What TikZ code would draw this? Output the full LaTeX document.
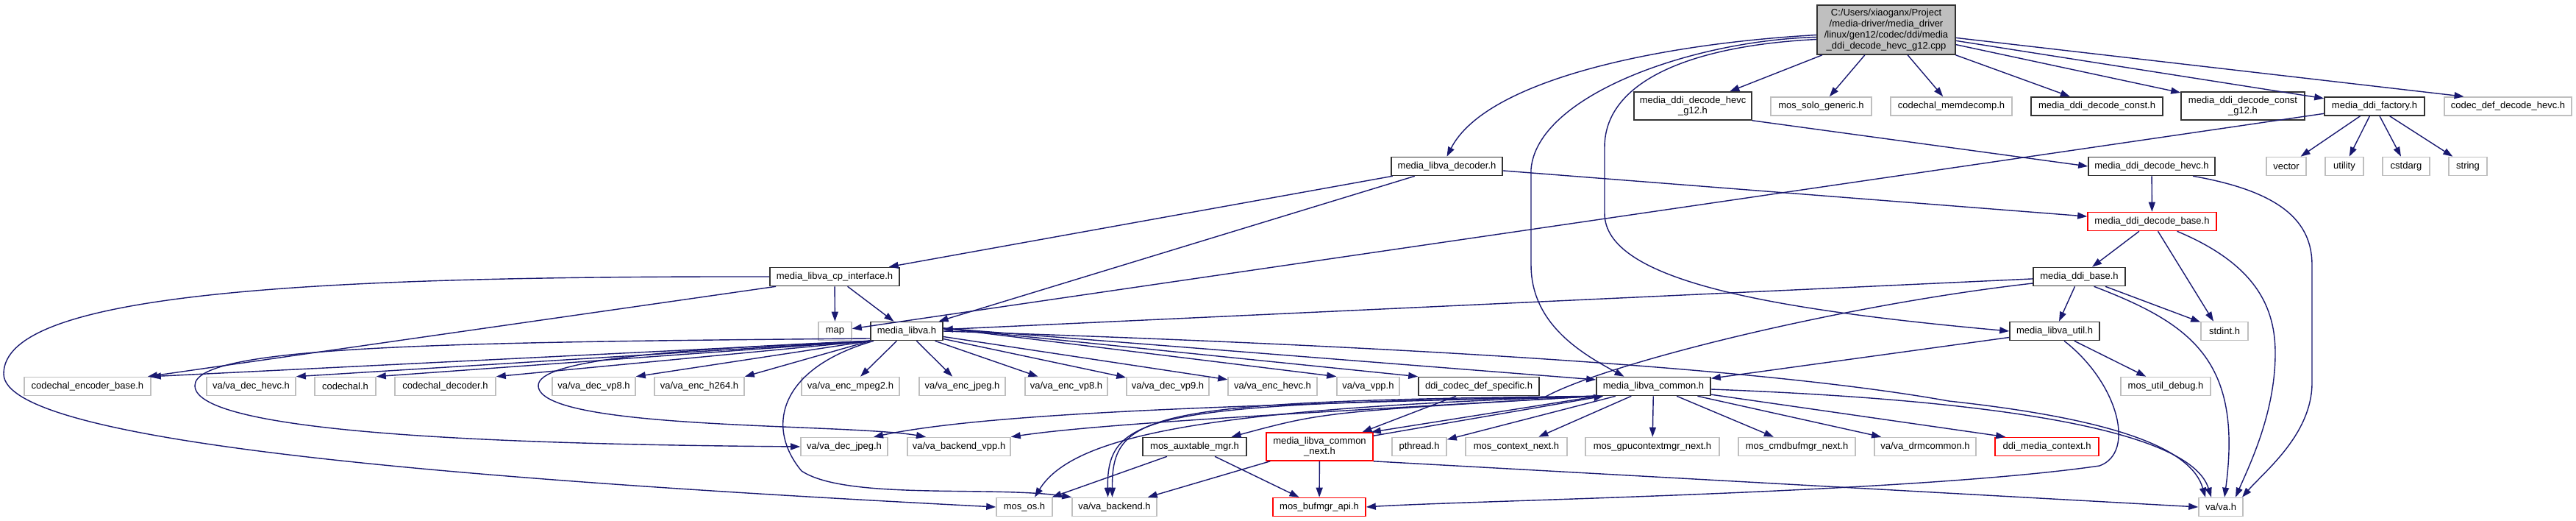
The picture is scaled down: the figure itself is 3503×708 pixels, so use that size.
\documentclass[tikz,border=0pt]{standalone}
\usepackage{fontspec}
\setmainfont{Liberation Sans}
\usetikzlibrary{arrows.meta}
\definecolor{edgeblue}{HTML}{191970}
\definecolor{boxgray}{HTML}{BFBFBF}

\begin{document}
\begin{tikzpicture}[x=1pt, y=-1pt,
  box/.style={draw, fill=white, line width=1.6pt, inner sep=2pt, minimum height=25pt,
    font=\fontsize{13}{14}\selectfont, align=center},
  hdr/.style={box, draw=black!80},
  ext/.style={box, draw=boxgray},
  trunc/.style={box, draw=red},
  dep/.style={draw=edgeblue, line width=1.4pt, -{Triangle[length=13pt, width=9pt]}}]

\useasboundingbox (0,0) rectangle (3503,708);

% Main file
\node[hdr, fill=boxgray, minimum width=188pt, minimum height=67pt, font=\fontsize{13}{15}\selectfont] (root) at (2565,40.5) {C:/Users/xiaoganx/Project\\/media-driver/media\_driver\\/linux/gen12/codec/ddi/media\\\_ddi\_decode\_hevc\_g12.cpp};

% Direct includes
\node[hdr, minimum width=160pt, minimum height=38pt] (hevcg12) at (2302,144) {media\_ddi\_decode\_hevc\\\_g12.h};
\node[ext, minimum width=137pt] (sologen) at (2476.5,144.5) {mos\_solo\_generic.h};
\node[ext, minimum width=165pt] (memdecomp) at (2653.5,144.5) {codechal\_memdecomp.h};
\node[hdr, minimum width=179pt] (decconst) at (2851.5,144.5) {media\_ddi\_decode\_const.h};
\node[hdr, minimum width=168pt, minimum height=38pt] (decconstg12) at (3050,144) {media\_ddi\_decode\_const\\\_g12.h};
\node[hdr, minimum width=136pt] (factory) at (3229,144.5) {media\_ddi\_factory.h};
\node[ext, minimum width=173pt] (codecdef) at (3410.5,144.5) {codec\_def\_decode\_hevc.h};

% Second level
\node[hdr, minimum width=151pt] (decoder) at (1967.5,226) {media\_libva\_decoder.h};
\node[hdr, minimum width=172pt] (decodehevc) at (2926,226) {media\_ddi\_decode\_hevc.h};
\node[ext, minimum width=54pt] (vector) at (3109,226) {vector};
\node[ext, minimum width=52pt] (utility) at (3188,226) {utility};
\node[ext, minimum width=64pt] (cstdarg) at (3272,226) {cstdarg};
\node[ext, minimum width=52pt] (string) at (3356,226) {string};
\node[trunc, minimum width=175pt] (decodebase) at (2926.5,301) {media\_ddi\_decode\_base.h};
\node[hdr, minimum width=176pt] (cpif) at (1135,376) {media\_libva\_cp\_interface.h};
\node[hdr, minimum width=125pt] (ddibase) at (2827.5,376) {media\_ddi\_base.h};
\node[ext, minimum width=45pt] (map) at (1135.5,450) {map};
\node[hdr, minimum width=98pt] (libva) at (1233,450) {media\_libva.h};
\node[hdr, minimum width=122pt] (util) at (2794,450) {media\_libva\_util.h};
\node[ext, minimum width=64pt] (stdint) at (3025,450) {stdint.h};

% va headers and common
\node[ext, minimum width=172pt] (encbase) at (119,525) {codechal\_encoder\_base.h};
\node[ext, minimum width=121pt] (dechevc) at (341.5,525) {va/va\_dec\_hevc.h};
\node[ext, minimum width=83pt] (codechal) at (469.5,525) {codechal.h};
\node[ext, minimum width=137pt] (codecdec) at (605.5,525) {codechal\_decoder.h};
\node[ext, minimum width=113pt] (decvp8) at (807.5,525) {va/va\_dec\_vp8.h};
\node[ext, minimum width=122pt] (ench264) at (951,525) {va/va\_enc\_h264.h};
\node[ext, minimum width=133pt] (encmpeg2) at (1156.5,525) {va/va\_enc\_mpeg2.h};
\node[ext, minimum width=117pt] (encjpeg) at (1308.5,525) {va/va\_enc\_jpeg.h};
\node[ext, minimum width=112pt] (encvp8) at (1450,525) {va/va\_enc\_vp8.h};
\node[ext, minimum width=112pt] (decvp9) at (1588,525) {va/va\_dec\_vp9.h};
\node[ext, minimum width=121pt] (enchevc) at (1730.5,525) {va/va\_enc\_hevc.h};
\node[ext, minimum width=85pt] (vavpp) at (1860.5,525) {va/va\_vpp.h};
\node[hdr, minimum width=164pt] (codecspec) at (2011,525) {ddi\_codec\_def\_specific.h};
\node[hdr, minimum width=155pt] (common) at (2248.5,525) {media\_libva\_common.h};
\node[ext, minimum width=122pt] (utildebug) at (2945,525) {mos\_util\_debug.h};

\node[ext, minimum width=118pt] (decjpeg) at (1148,607) {va/va\_dec\_jpeg.h};
\node[ext, minimum width=140pt] (backendvpp) at (1304,607) {va/va\_backend\_vpp.h};
\node[hdr, minimum width=141pt] (auxtable) at (1624.5,607) {mos\_auxtable\_mgr.h};
\node[trunc, minimum width=145pt, minimum height=38pt] (commonnext) at (1794.5,607) {media\_libva\_common\\\_next.h};
\node[ext, minimum width=74pt] (pthread) at (1930,607) {pthread.h};
\node[ext, minimum width=138pt] (ctxnext) at (2062,607) {mos\_context\_next.h};
\node[ext, minimum width=182pt] (gpuctx) at (2247,607) {mos\_gpucontextmgr\_next.h};
\node[ext, minimum width=159pt] (cmdbuf) at (2443.5,607) {mos\_cmdbufmgr\_next.h};
\node[ext, minimum width=138pt] (drmcommon) at (2618,607) {va/va\_drmcommon.h};
\node[trunc, minimum width=141pt] (mediactx) at (2783.5,607) {ddi\_media\_context.h};

\node[ext, minimum width=76pt] (mosos) at (1393,689) {mos\_os.h};
\node[ext, minimum width=115pt] (backend) at (1515.5,689) {va/va\_backend.h};
\node[trunc, minimum width=126pt] (bufmgr) at (1794,689) {mos\_bufmgr\_api.h};
\node[ext, minimum width=60pt] (vah) at (3020,689) {va/va.h};

% Arrows from the main file
\draw[dep] ([yshift=-7pt]root.west) .. controls (2250,60) and (2020,110) .. (decoder.north);
\draw[dep] ([yshift=-10pt]root.west) .. controls (2300,55) and (2090,130) .. (2082,230) -- (2082,360) .. controls (2082,440) and (2150,480) .. ([xshift=-40pt]common.north);
\draw[dep] ([yshift=-13pt]root.west) .. controls (2300,62) and (2182,110) .. (2182,200) -- (2182,290) .. controls (2182,380) and (2400,420) .. (util.west);
\draw[dep] (root) -- (hevcg12);
\draw[dep] (root) -- (sologen);
\draw[dep] (root) -- (memdecomp);
\draw[dep] (root) -- (decconst);
\draw[dep] (root) -- (decconstg12);
\draw[dep] (root) -- (factory);
\draw[dep] (root) -- ([xshift=-60pt]codecdef.north);

% Arrows between headers
\draw[dep] (decoder) -- (cpif);
\draw[dep] (decoder) -- (libva);
\draw[dep] (decoder) -- (decodebase);
\draw[dep] (hevcg12.south east) -- (decodehevc.west);
\draw[dep] (factory) -- (map);
\foreach \dst in {vector, utility, cstdarg, string}
  \draw[dep] (factory) -- (\dst);
\draw[dep] (decodehevc) -- (decodebase);
\draw[dep] ([xshift=56pt]decodehevc.south) .. controls (3100,260) and (3144,300) .. (3144,360) -- (3144,520) .. controls (3144,590) and (3080,640) .. ([xshift=29pt]vah.north);
\draw[dep] (decodebase) -- (ddibase);
\draw[dep] ([xshift=8pt]decodebase.south) -- ([xshift=-15pt]stdint.north);
\draw[dep] ([xshift=34pt]decodebase.south) .. controls (3070,360) and (3094,420) .. (3094,480) .. controls (3094,560) and (3060,630) .. ([xshift=20pt]vah.north);

\draw[dep] (cpif) -- (map);
\draw[dep] (cpif) -- (libva);
\draw[dep] ([xshift=-80pt]cpif.south) -- ([xshift=82pt]encbase.north);
\draw[dep] (cpif.west) .. controls (400,375) and (5,400) .. (5,508) .. controls (5,600) and (600,650) .. (mosos.west);

\draw[dep] (ddibase) -- (libva);
\draw[dep] (ddibase) -- (util);
\draw[dep] (ddibase) -- (stdint);
\draw[dep] ([xshift=20pt]ddibase.south) .. controls (2980,440) and (3050,490) .. ([xshift=5pt]vah.north);
\draw[dep] ([yshift=-9pt]ddibase.west) .. controls (2500,415) and (2180,495) .. (2100,540) .. controls (1560,550) and (1505,565) .. ([xshift=-9pt]backend.north);

\draw[dep] (util) -- (common);
\draw[dep] (util) -- (utildebug);
\draw[dep] ([xshift=13pt]util.south) .. controls (2880,520) and (2905,615) .. (2855,633) .. controls (2600,670) and (2000,680) .. (bufmgr.east);

% Arrows from media_libva.h
\foreach \dst in {encbase, dechevc, codechal, codecdec, decvp8, ench264}
  \draw[dep] (libva.south west) -- (\dst.north east);
\foreach \dst in {encmpeg2, encjpeg, encvp8, decvp9, enchevc}
  \draw[dep] (libva) -- (\dst);
\draw[dep] ([yshift=4pt]libva.east) -- (vavpp.north west);
\draw[dep] ([yshift=4pt]libva.east) -- (codecspec.north west);
\draw[dep] ([yshift=4pt]libva.east) -- ([yshift=9pt]common.west);
\draw[dep] ([yshift=-10pt]libva.west) .. controls (600,465) and (265,470) .. (265,524) .. controls (265,590) and (700,604) .. (decjpeg.west);
\draw[dep] (libva.south west) .. controls (900,475) and (732,490) .. (732,524) .. controls (732,585) and (1150,575) .. ([xshift=-45pt]backendvpp.north);
\draw[dep] ([xshift=-45pt]libva.south) .. controls (1060,500) and (1040,580) .. (1090,640) .. controls (1150,680) and (1350,660) .. (backend.north west);
\draw[dep] (libva.east) .. controls (1900,470) and (2400,500) .. (2650,545) .. controls (2880,570) and (2980,610) .. ([xshift=-21pt]vah.north);

% Arrows from media_libva_common.h
\draw[dep] ([yshift=-4pt]common.east) .. controls (2750,545) and (2980,590) .. ([xshift=-13pt]vah.north);
\draw[dep] (common) -- ([xshift=15pt]mediactx.north west);
\foreach \dst in {pthread, ctxnext, gpuctx, cmdbuf, drmcommon}
  \draw[dep] (common) -- (\dst);
\draw[dep] (common.south west) .. controls (1700,550) and (1350,560) .. ([xshift=40pt]decjpeg.north);
\draw[dep] (common.south west) .. controls (1800,560) and (1500,575) .. (backendvpp.north east);
\draw[dep] (common.south west) .. controls (1650,555) and (1460,590) .. ([xshift=14pt]mosos.north);
\draw[dep] (common.south west) .. controls (1560,545) and (1512,560) .. ([xshift=-3pt]backend.north);
\draw[dep] (common.south west) .. controls (1800,560) .. ([xshift=50pt]auxtable.north);
\draw[dep] ([xshift=3pt]common.south west) -- ([xshift=-3pt]commonnext.north east);
\draw[dep] ([yshift=-5pt]commonnext.north east) -- ([xshift=10pt]common.south west);
\draw[dep] ([xshift=-31pt]codecspec.south) -- ([xshift=58pt]commonnext.north);

% Lower level
\draw[dep] (auxtable) -- (mosos);
\draw[dep] (auxtable) -- (bufmgr);
\draw[dep] (commonnext) -- (backend);
\draw[dep] (commonnext) -- (bufmgr);
\draw[dep] (commonnext.south east) -- (vah.west);

\end{tikzpicture}
\end{document}
